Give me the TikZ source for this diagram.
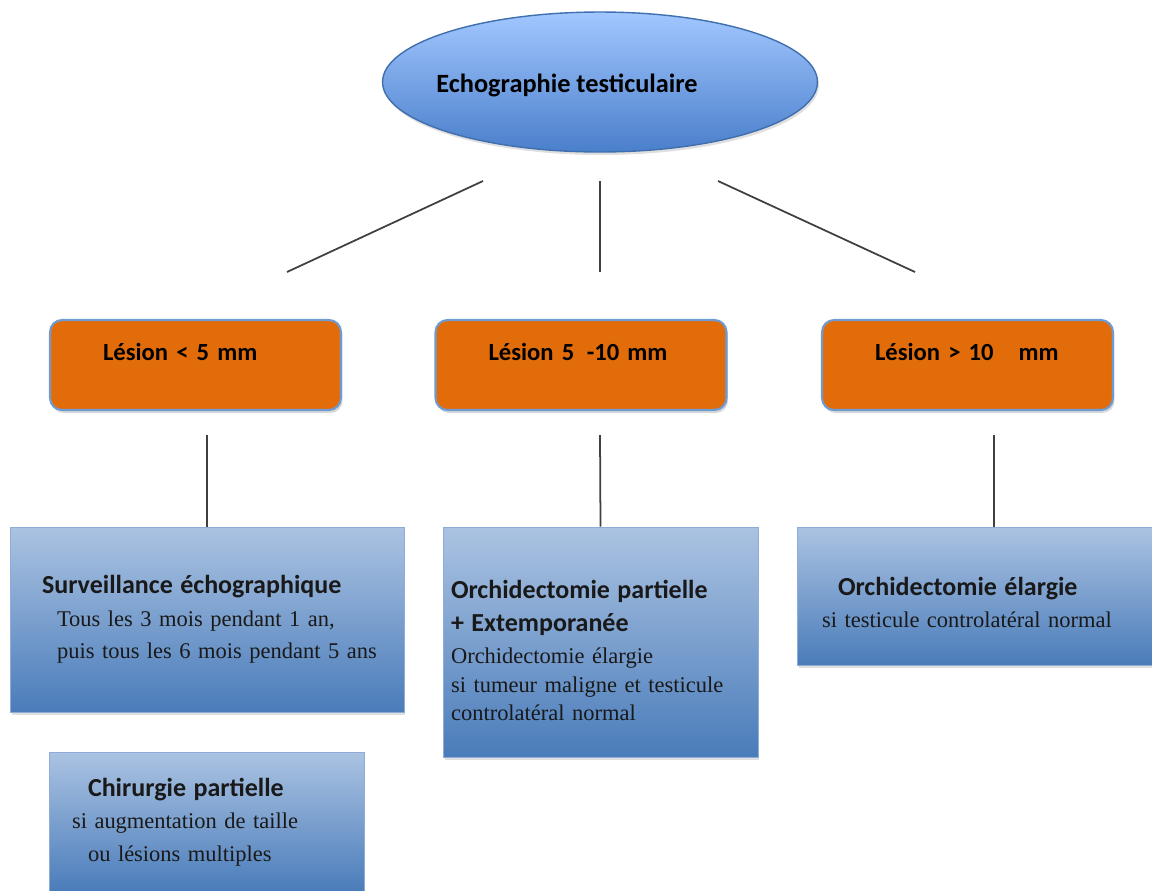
\documentclass[tikz,border=0pt]{standalone}
\usepackage{fontspec}
\setmainfont{Liberation Serif}
\newfontfamily\headfont{Carlito}
\usepackage{tikz}
\usetikzlibrary{shapes.geometric, shadows}
\definecolor{echotop}{HTML}{A2C7FF}
\definecolor{echobot}{HTML}{4A7FCB}
\definecolor{echoline}{HTML}{3F6FAE}
\definecolor{lesorange}{HTML}{E36C0A}
\definecolor{lesborder}{HTML}{6F9BD3}
\definecolor{plantop}{HTML}{ABC3E2}
\definecolor{planbot}{HTML}{4A7CBA}
\definecolor{planline}{HTML}{8FACD6}
\definecolor{linkgray}{HTML}{404040}
\newcommand{\headtxt}[1]{{\headfont\bfseries\fontsize{14.8}{18.5}\selectfont #1}}

\begin{document}
\begin{tikzpicture}[
    x=0.02cm, y=-0.02cm,
    root_node/.style={ellipse, top color=echotop, bottom color=echobot, draw=echoline, thick, minimum width=8.7cm, minimum height=2.8cm, inner sep=0pt, text height=0.5cm, text depth=0.1cm, font=\headfont\bfseries\fontsize{15}{18}\selectfont, drop shadow={opacity=0.25, shadow xshift=0.03cm, shadow yshift=-0.06cm}},
    size_node/.style={rectangle, rounded corners=0.24cm, fill=lesorange, draw=lesborder, line width=1.2pt, minimum height=1.8cm, text width=3.7cm, inner xsep=1.06cm, align=left, text height=0.3cm, text depth=0.5cm, font=\headfont\bfseries\fontsize{14}{17}\selectfont, drop shadow={opacity=0.3, shadow xshift=0.03cm, shadow yshift=-0.06cm}},
    plan_node/.style={rectangle, top color=plantop, bottom color=planbot, draw=planline, align=left, text=black!90, font=\fontsize{12.8}{18.5}\selectfont, drop shadow={opacity=0.25, shadow xshift=0.03cm, shadow yshift=-0.06cm}},
    link/.style={draw=linkgray, line width=1pt}
]
\useasboundingbox (0,0) rectangle (1152,890);

\node[root_node] (echo) at (600,82) {\makebox[0pt]{Echographie testiculaire\hspace*{1.32cm}}};

% Taille de la lesion
\node[size_node] (small) at (195.5,365) {Lésion < 5 mm};
\node[size_node] (medium) at (581,365) {Lésion 5\hspace{0.25cm}-10 mm};
\node[size_node] (large) at (967.5,365) {Lésion > 10\hspace{0.5cm}mm};

% Conduite a tenir
\node[plan_node, text width=6.9cm, inner xsep=0.49cm, minimum height=3.7cm] (watch) at (207,619.5) {\hspace*{0.15cm}\headtxt{Surveillance échographique}\\
\hspace*{0.45cm}Tous les 3 mois pendant 1 an,\\
\hspace*{0.45cm}puis tous les 6 mois pendant 5 ans};
\node[plan_node, text width=5.98cm, inner xsep=0.16cm, minimum height=4.6cm] (partial) at (600.5,642) {\rule{0pt}{0.72cm}\headtxt{Orchidectomie partielle}\\
\headtxt{+ Extemporanée}\\
Orchidectomie élargie\\[-0.08cm]
si tumeur maligne et testicule\\[-0.08cm]
controlatéral normal};
\node[plan_node, text width=6.1cm, inner xsep=0.5cm, minimum height=2.76cm] (wide) at (974.5,596) {\rule{0pt}{0.62cm}\hspace*{0.32cm}\headtxt{Orchidectomie élargie}\\
si testicule controlatéral normal};
\node[plan_node, text width=5.38cm, inner xsep=0.46cm, minimum height=2.8cm] (surgery) at (206.5,822) {\hspace*{0.32cm}\headtxt{Chirurgie partielle}\\
si augmentation de taille\\
\hspace*{0.32cm}ou lésions multiples};

% Connections
\coordinate (e1) at (483,181);
\coordinate (e2) at (600,181);
\coordinate (e3) at (718,181);
\coordinate (s1) at (287,272);
\coordinate (s2) at (600,272);
\coordinate (s3) at (915,272);
\draw[link] (e1) -- (s1);
\draw[link] (e2) -- (s2);
\draw[link] (e3) -- (s3);

\coordinate (p1) at (207,435);
\coordinate (p2) at (600,435);
\coordinate (p3) at (994,435);
\draw[link] (p1) -- (watch.north);
\draw[link] (p2) -- (partial.north);
\draw[link] (p3) -- (p3 |- wide.north);

\end{tikzpicture}
\end{document}
